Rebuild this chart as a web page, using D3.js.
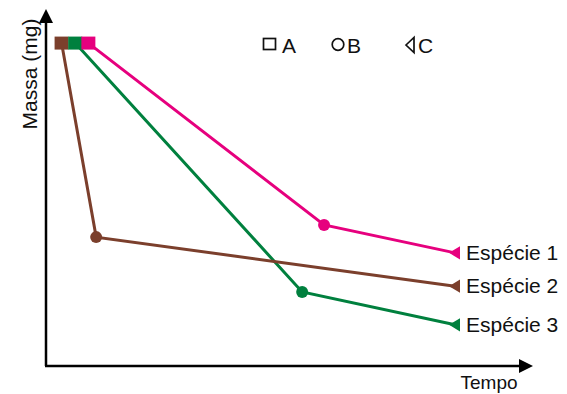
<!DOCTYPE html>
<html><head><meta charset="utf-8">
<script src="https://cdn.jsdelivr.net/npm/d3@7"></script>
<style>html,body{margin:0;padding:0;background:#fff}svg{display:block}text{font-family:"Liberation Sans",Arial,sans-serif;fill:#111}</style>
</head><body>
<script>
const species = ["Espécie 1", "Espécie 2", "Espécie 3"];
const colors = ["#e6007e", "#7b3f2c", "#00803e"];
// time (arbitrary units) for stages A, B, C
const timeA = [8.7, 3.2, 6.0];
const timeB = [57.1, 10.3, 52.6];
const timeC = [84.0, 84.0, 84.0];
// mass (arbitrary units) for stages A, B, C
const massA = [90.2, 90.2, 90.2];
const massB = [39.4, 36.0, 20.7];
const massC = [31.6, 22.3, 11.5];
const legendLabels = ["A", "B", "C"];

const W = 567, H = 394;
const svg = d3.select("body").append("svg").attr("width", W).attr("height", H);
const x = d3.scaleLinear().domain([0, 100]).range([46, 533]);
const y = d3.scaleLinear().domain([0, 100]).range([366, 8]);

// axes with arrowheads
const ax = svg.append("g");
ax.append("line").attr("x1", x(0)).attr("y1", y(0)).attr("x2", x(0)).attr("y2", y(100) + 12)
  .attr("stroke", "#000").attr("stroke-width", 2.5);
ax.append("line").attr("x1", x(0) - 1).attr("y1", y(0)).attr("x2", x(100) - 12).attr("y2", y(0))
  .attr("stroke", "#000").attr("stroke-width", 2.5);
ax.append("path").attr("d", `M${x(0)},${y(100)+1} L${x(0)-7},${y(100)+15} L${x(0)+7},${y(100)+15} Z`).attr("fill", "#000");
ax.append("path").attr("d", `M${x(100)},${y(0)} L${x(100)-14},${y(0)-7} L${x(100)-14},${y(0)+7} Z`).attr("fill", "#000");

svg.append("text").attr("transform", `translate(37,74) rotate(-90)`).attr("text-anchor", "middle")
  .attr("font-size", 21).text("Massa (mg)");
svg.append("text").attr("x", 489).attr("y", 389).attr("text-anchor", "middle")
  .attr("font-size", 19).text("Tempo");

const line = d3.line().x(d => x(d[0])).y(d => y(d[1]));
const tri = (cx, cy, s) => `M${cx - s * 0.55},${cy} L${cx + s * 0.45},${cy - s * 0.6} L${cx + s * 0.45},${cy + s * 0.6} Z`;

const order = [2, 1, 0];
order.forEach(i => {
  const pts = [[timeA[i], massA[i]], [timeB[i], massB[i]], [timeC[i], massC[i]]];
  const g = svg.append("g");
  g.append("path").attr("d", line(pts)).attr("fill", "none").attr("stroke", colors[i]).attr("stroke-width", 3);
  g.append("circle").attr("cx", x(timeB[i])).attr("cy", y(massB[i])).attr("r", 6).attr("fill", colors[i]);
  g.append("path").attr("d", tri(x(timeC[i]), y(massC[i]), 11)).attr("fill", colors[i]);
  svg.append("text").attr("x", x(timeC[i]) + 11).attr("y", y(massC[i]) + 7)
    .attr("font-size", 21).text(species[i]);
});
[1, 2, 0].forEach(i => {
  svg.append("rect").attr("x", x(timeA[i]) - 7).attr("y", y(massA[i]) - 6.5)
    .attr("width", 14).attr("height", 13).attr("fill", colors[i]);
});

// legend
const leg = svg.append("g");
leg.append("rect").attr("x", 263.5).attr("y", 38.5).attr("width", 12).attr("height", 11)
  .attr("fill", "none").attr("stroke", "#111").attr("stroke-width", 1.7);
leg.append("circle").attr("cx", 338).attr("cy", 44.5).attr("r", 5.8)
  .attr("fill", "none").attr("stroke", "#111").attr("stroke-width", 1.7);
leg.append("path").attr("d", `M406,45 L414,37.5 L414,52.5 Z`)
  .attr("fill", "none").attr("stroke", "#111").attr("stroke-width", 1.7).attr("stroke-linejoin", "miter");
const lx = [282, 347, 418];
legendLabels.forEach((t, k) => {
  leg.append("text").attr("x", lx[k]).attr("y", 52.5).attr("font-size", 21).text(t);
});
</script>
</body></html>
